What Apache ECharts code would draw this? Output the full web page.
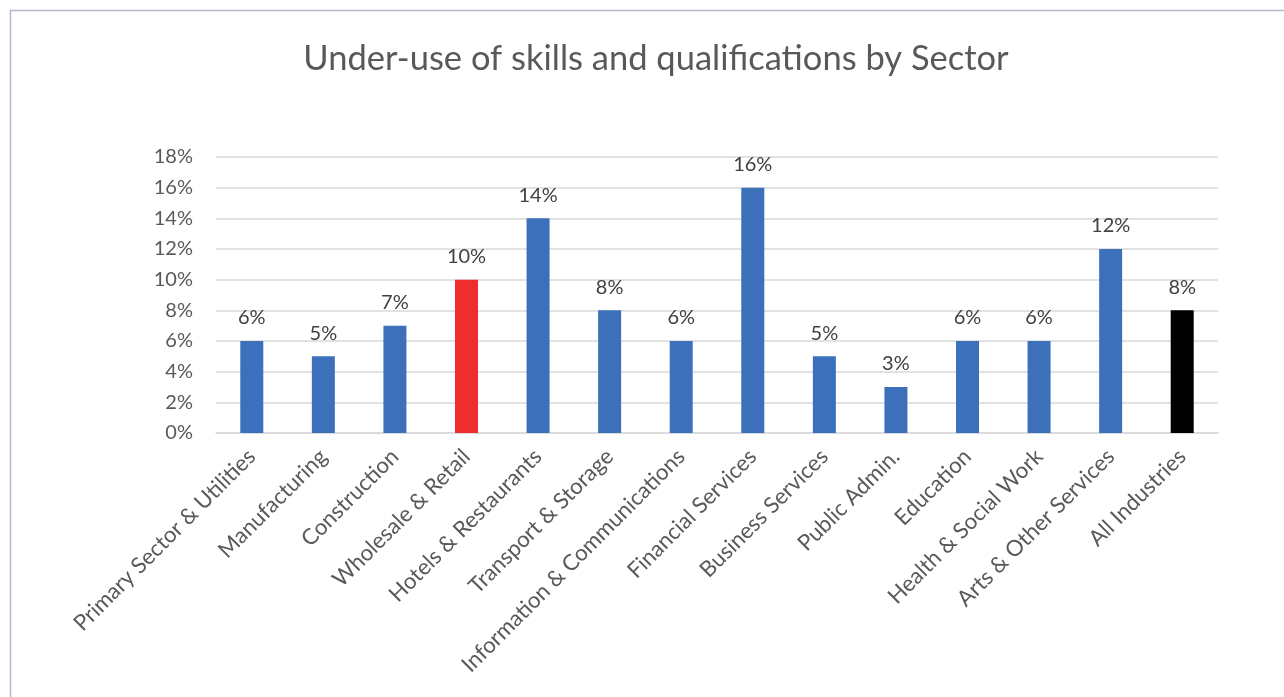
<!DOCTYPE html>
<html>
<head>
<meta charset="utf-8">
<script src="https://cdn.jsdelivr.net/npm/echarts@6/dist/echarts.min.js"></script>
<style>
  html, body { margin: 0; padding: 0; background: #fff; }
  #chart { width: 1284px; height: 697px; }
</style>
</head>
<body>
<div id="chart"></div>
<script>
// Sectors along the x axis
const sectors = [
  'Primary Sector & Utilities', 'Manufacturing', 'Construction', 'Wholesale & Retail',
  'Hotels & Restaurants', 'Transport & Storage', 'Information & Communications',
  'Financial Services', 'Business Services', 'Public Admin.', 'Education',
  'Health & Social Work', 'Arts & Other Services', 'All Industries'
];
// Share of workers whose skills and qualifications are under-used (%)
const underUse = [6, 5, 7, 10, 14, 8, 6, 16, 5, 3, 6, 6, 12, 8];
// Bar fill per sector: highlighted retail, overall benchmark in black
const barColors = [
  '#3D70BA', '#3D70BA', '#3D70BA', '#EE2E2E', '#3D70BA', '#3D70BA', '#3D70BA',
  '#3D70BA', '#3D70BA', '#3D70BA', '#3D70BA', '#3D70BA', '#3D70BA', '#000000'
];
// y axis range and step (%)
const yMin = 0, yMax = 18, yStep = 2;

const FONT = 'Lato';
const chart = echarts.init(document.getElementById('chart'), null, { renderer: 'canvas' });

chart.setOption({
  animation: false,
  backgroundColor: '#ffffff',
  textStyle: { fontFamily: FONT },
  title: {
    text: 'Under-use of skills and qualifications by Sector',
    left: 651,
    textAlign: 'center',
    top: 36,
    textStyle: { fontFamily: FONT, fontSize: 34.5, fontWeight: 'normal', color: '#595959' }
  },
  graphic: [{
    type: 'rect',
    shape: { x: 10.5, y: 10.5, width: 1300, height: 720 },
    style: { fill: 'none', stroke: '#b7b5c9', lineWidth: 1.5 },
    silent: true
  }],
  grid: { left: 216, right: 66, top: 157, bottom: 264 },
  xAxis: {
    type: 'category',
    data: sectors,
    axisLine: { lineStyle: { color: '#d9d9d9', width: 1.5 } },
    axisTick: { show: false },
    axisLabel: {
      interval: 0,
      rotate: 45,
      margin: 20,
      fontSize: 22.2,
      fontFamily: FONT,
      color: '#595959'
    }
  },
  yAxis: {
    type: 'value',
    min: yMin,
    max: yMax,
    interval: yStep,
    axisLine: { show: false },
    axisTick: { show: false },
    splitLine: { lineStyle: { color: '#d9d9d9', width: 1.5 } },
    axisLabel: {
      margin: 23,
      fontSize: 20,
      fontFamily: FONT,
      color: '#595959',
      formatter: v => v + '%'
    }
  },
  series: [{
    type: 'bar',
    barWidth: 23,
    data: underUse.map((v, i) => ({ value: v, itemStyle: { color: barColors[i] } })),
    label: {
      show: true,
      position: 'top',
      distance: 13,
      fontSize: 20,
      fontFamily: FONT,
      color: '#404040',
      formatter: p => p.value + '%'
    }
  }]
});
</script>
</body>
</html>
